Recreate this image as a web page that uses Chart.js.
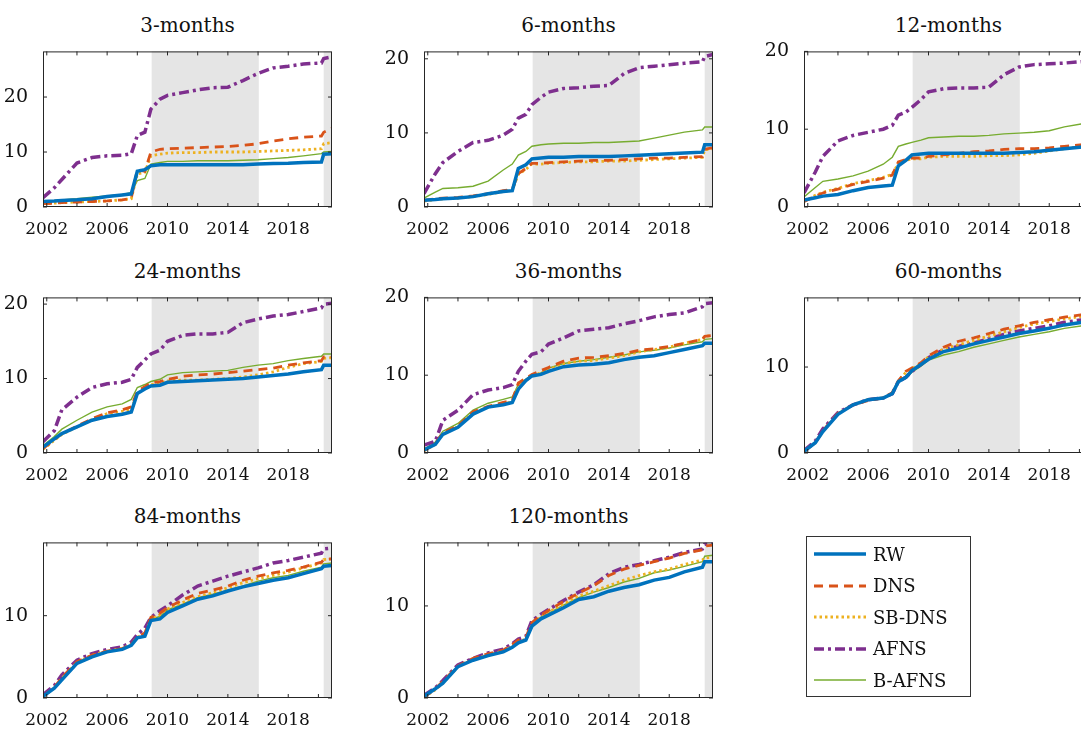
<!DOCTYPE html>
<html>
<head>
<meta charset="utf-8">
<script src="https://cdn.jsdelivr.net/npm/chart.js@4.4.0/dist/chart.umd.min.js"></script>
<style>
  body { margin: 0; width: 1081px; height: 729px; overflow: hidden; background: #fff; position: relative; font-family: 'DejaVu Serif', 'Liberation Serif', serif; }
  canvas { position: absolute; }
  .ttl { position: absolute; font-size: 20px; color: #111; text-align: center; width: 289px; }
  #legend { position: absolute; left: 806px; top: 536px; width: 165px; height: 161px; border: 1px solid #333; box-sizing: border-box; background: #fff; }
  .item { position: absolute; left: 6px; height: 24px; font-size: 18px; color: #111; }
  .item canvas { position: static; vertical-align: middle; }
  .item span { vertical-align: middle; margin-left: 6px; }
</style>
</head>
<body>
<div id="legend"></div>
<script>
var FONT = "'DejaVu Serif', 'Liberation Serif', serif";
// shared time grid (decimal years)
var years = [2001.75, 2002.5, 2003, 2004, 2005, 2006, 2007, 2007.6, 2008, 2008.5, 2008.9, 2009.5, 2010,
  2011, 2012, 2013, 2014, 2015, 2016, 2017, 2018, 2019, 2020.2, 2020.35, 2020.9];
var seriesNames = ['RW', 'DNS', 'SB-DNS', 'AFNS', 'B-AFNS'];
var panelTitles = ['3-months', '6-months', '12-months', '24-months', '36-months', '60-months', '84-months', '120-months'];
var yMax = [28.3, 21, 20, 20.9, 20, 18.1, 18.9, 16.9];
var yTicks = [0, 10, 20];
var xTickLabels = [2002, 2006, 2010, 2014, 2018];
var shadeZLB = [2008.95, 2016.05];
var shadeCovid = 2020.35;

// cumulative values per panel: RW, DNS, SB-DNS, AFNS, B-AFNS
var m3 = [
  [1, 1.1, 1.2, 1.3, 1.5, 1.9, 2.2, 2.4, 6.5, 6.8, 7.5, 7.7, 7.7, 7.7, 7.7, 7.7, 7.7, 7.7, 7.8, 7.9, 7.95, 8.1, 8.2, 9.6, 9.7],
  [0.6, 0.7, 0.8, 0.9, 1, 1.1, 1.3, 1.6, 6.8, 6.5, 10, 10.5, 10.6, 10.7, 10.8, 10.9, 11, 11.2, 11.5, 12, 12.4, 12.7, 12.9, 13.6, 14.3],
  [0.6, 0.7, 0.8, 0.9, 1, 1.1, 1.3, 1.5, 6, 6.3, 9.3, 9.6, 9.8, 9.9, 9.9, 10, 10, 10, 10.1, 10.2, 10.3, 10.4, 10.6, 11.5, 11.7],
  [1.7, 3.5, 5, 8, 9, 9.3, 9.4, 9.7, 13, 13.6, 17.8, 19.6, 20.3, 20.8, 21.3, 21.7, 21.8, 23, 24.3, 25.3, 25.6, 26, 26.2, 27, 27.3],
  [1.1, 1.2, 1.3, 1.5, 1.8, 2, 2.3, 2.6, 4.8, 5.2, 7.8, 8.1, 8.3, 8.3, 8.4, 8.4, 8.4, 8.5, 8.6, 8.8, 9, 9.3, 9.7, 10, 10.1]
];
var m6 = [
  [0.9, 1.0, 1.1, 1.2, 1.4, 1.8, 2.1, 2.2, 5.2, 5.7, 6.5, 6.6, 6.7, 6.7, 6.8, 6.8, 6.8, 6.9, 7, 7.1, 7.2, 7.3, 7.4, 8.4, 8.4],
  [0.9, 1.1, 1.2, 1.3, 1.5, 1.8, 2.2, 2.4, 4.5, 5.2, 5.9, 5.9, 6, 6.1, 6.2, 6.3, 6.3, 6.4, 6.5, 6.6, 6.6, 6.7, 6.8, 7.8, 8.0],
  [0.8, 1.0, 1.1, 1.2, 1.4, 1.7, 2.1, 2.3, 4.4, 5.1, 5.8, 5.8, 5.9, 6.0, 6.1, 6.1, 6.2, 6.2, 6.3, 6.4, 6.5, 6.6, 6.7, 7.7, 7.9],
  [1.8, 4.5, 6, 7.5, 8.7, 9, 9.7, 10.5, 12, 12.5, 13.8, 14.8, 15.5, 16, 16.1, 16.3, 16.4, 18, 18.8, 19.0, 19.2, 19.4, 19.6, 20.3, 20.6],
  [1.2, 2.0, 2.5, 2.6, 2.8, 3.5, 5, 5.8, 7, 7.5, 8.2, 8.4, 8.5, 8.6, 8.6, 8.7, 8.7, 8.8, 8.9, 9.3, 9.7, 10.1, 10.4, 10.8, 10.8]
];
var m12 = [
  [0.9, 1.2, 1.4, 1.6, 2.1, 2.5, 2.7, 2.8, 5.3, 6, 6.7, 6.8, 6.9, 6.9, 6.9, 6.9, 6.9, 6.9, 7, 7.1, 7.3, 7.5, 7.7, 7.7, 7.8],
  [0.7, 1.4, 1.8, 2.3, 2.9, 3.3, 3.7, 4.1, 5.8, 6.1, 6.3, 6.3, 6.5, 6.7, 6.9, 7.1, 7.2, 7.4, 7.5, 7.5, 7.6, 7.8, 8, 8, 8.1],
  [0.7, 1.5, 1.9, 2.4, 3.0, 3.4, 3.8, 4.2, 5.6, 6, 6.2, 6.2, 6.4, 6.5, 6.5, 6.5, 6.6, 6.6, 6.7, 6.9, 7.2, 7.5, 7.8, 7.9, 8.0],
  [1.8, 4.5, 6.5, 8.5, 9.2, 9.6, 10, 10.5, 11.8, 12.2, 12.8, 13.8, 14.8, 15.2, 15.3, 15.3, 15.4, 17, 18, 18.3, 18.4, 18.5, 18.7, 18.8, 18.9],
  [1.3, 2.5, 3.3, 3.6, 4.0, 4.6, 5.5, 6.4, 7.8, 8.1, 8.3, 8.6, 8.9, 9.0, 9.1, 9.1, 9.2, 9.4, 9.5, 9.6, 9.8, 10.3, 10.7, 10.8, 11.2]
];
var m24 = [
  [0.8, 1.9, 2.6, 3.5, 4.4, 4.9, 5.2, 5.5, 8.0, 8.6, 9.0, 9.1, 9.5, 9.6, 9.7, 9.8, 9.9, 10, 10.2, 10.4, 10.6, 10.9, 11.2, 11.8, 11.8],
  [0.6, 1.8, 2.6, 3.6, 4.6, 5.4, 5.8, 6.2, 8.3, 8.9, 9.4, 9.6, 9.9, 10.3, 10.5, 10.6, 10.8, 11, 11.2, 11.4, 11.8, 12.1, 12.4, 12.9, 12.9],
  [0.5, 1.7, 2.5, 3.5, 4.5, 5.3, 5.6, 5.9, 8.0, 8.7, 9.2, 9.4, 9.7, 9.8, 9.8, 9.9, 10, 10.2, 10.5, 10.9, 11.5, 12, 12.3, 12.7, 12.8],
  [1.5, 3.0, 5.8, 7.5, 8.8, 9.3, 9.5, 9.9, 11.5, 12.5, 13.3, 13.8, 15, 15.8, 16, 16, 16.2, 17.5, 18, 18.4, 18.6, 19, 19.5, 20, 20.1],
  [1.0, 2.2, 3.2, 4.4, 5.5, 6.2, 6.6, 7.2, 8.8, 9.2, 9.6, 9.9, 10.5, 10.8, 10.9, 11, 11.1, 11.5, 11.8, 12, 12.4, 12.7, 13, 13.3, 13.3]
];
var m36 = [
  [0.4, 1.1, 2.4, 3.3, 5.0, 5.9, 6.2, 6.5, 8.2, 9.3, 9.9, 10.1, 10.5, 11.1, 11.3, 11.4, 11.6, 12, 12.3, 12.5, 12.9, 13.3, 13.8, 14.1, 14.1],
  [0.3, 1.2, 2.6, 3.5, 5.3, 6.0, 6.5, 6.8, 9.0, 9.6, 10.1, 10.6, 11, 11.8, 12.2, 12.3, 12.5, 12.8, 13.2, 13.4, 13.7, 14.1, 14.6, 15, 15.1],
  [0.3, 1.1, 2.4, 3.4, 5.2, 5.9, 6.3, 6.6, 8.6, 9.3, 9.9, 10.3, 10.7, 11.5, 11.8, 11.9, 12.2, 12.5, 13, 13.3, 13.6, 14.1, 14.6, 15, 15.1],
  [1.0, 1.5, 4.2, 5.5, 7.5, 8.1, 8.4, 8.8, 10.5, 11.8, 12.7, 13, 14, 14.8, 15.7, 15.9, 16.1, 16.6, 17.0, 17.5, 17.8, 18.0, 18.8, 19.2, 19.3],
  [0.5, 1.4, 2.8, 3.8, 5.5, 6.4, 6.9, 7.2, 8.8, 9.5, 10, 10.3, 10.9, 11.5, 11.8, 12, 12.3, 12.6, 13, 13.2, 13.5, 13.9, 14.3, 14.6, 14.7]
];
var m60 = [
  [0.2, 1.2, 2.5, 4.5, 5.6, 6.2, 6.4, 6.9, 8.3, 8.8, 9.6, 10.3, 10.9, 11.8, 12.2, 12.7, 13.1, 13.5, 13.9, 14.2, 14.5, 14.9, 15.2, 15.3, 15.5],
  [0.2, 1.2, 2.6, 4.6, 5.6, 6.1, 6.4, 7.0, 8.4, 9.5, 9.9, 10.5, 11.3, 12.3, 13, 13.4, 13.9, 14.4, 14.8, 15.2, 15.5, 15.8, 16.1, 16.3, 16.3],
  [0.2, 1.2, 2.5, 4.6, 5.6, 6.2, 6.4, 7, 8.3, 9.4, 9.8, 10.4, 11.2, 12.1, 12.6, 13.1, 13.6, 14.1, 14.6, 15, 15.3, 15.6, 15.9, 16.1, 16.2],
  [0.3, 1.4, 2.8, 4.7, 5.6, 6.2, 6.4, 6.9, 8.3, 8.8, 9.5, 10.3, 11.1, 12, 12.4, 12.8, 13.3, 13.8, 14.2, 14.5, 14.8, 15.2, 15.5, 15.7, 15.8],
  [0.2, 1.3, 2.6, 4.5, 5.6, 6.3, 6.5, 6.9, 8.3, 8.7, 9.4, 10.1, 10.8, 11.4, 11.8, 12.3, 12.7, 13.1, 13.5, 13.8, 14.1, 14.5, 14.8, 14.9, 15.0]
];
var m84 = [
  [0.2, 1.2, 2.2, 4.2, 5.0, 5.6, 5.9, 6.4, 7.3, 7.5, 9.4, 9.6, 10.4, 11.2, 12, 12.4, 13, 13.5, 13.9, 14.3, 14.6, 15.1, 15.7, 16.0, 16.1],
  [0.2, 1.3, 2.5, 4.4, 5.2, 5.7, 6.0, 6.5, 7.4, 7.9, 9.8, 10.3, 11.0, 11.9, 12.7, 13.1, 13.6, 14.3, 14.8, 15.2, 15.5, 15.9, 16.5, 16.8, 16.9],
  [0.2, 1.2, 2.4, 4.3, 5.2, 5.7, 6.0, 6.5, 7.4, 7.7, 9.6, 10.1, 10.8, 11.6, 12.3, 12.8, 13.4, 14, 14.5, 14.9, 15.3, 15.8, 16.4, 16.8, 16.9],
  [0.4, 1.5, 2.8, 4.6, 5.4, 5.9, 6.2, 6.8, 7.7, 8.5, 9.8, 10.6, 11.2, 12.5, 13.6, 14.2, 14.8, 15.3, 15.8, 16.4, 16.7, 17.1, 17.6, 18.1, 18.2],
  [0.2, 1.2, 2.3, 4.3, 5.1, 5.6, 5.9, 6.4, 7.3, 7.5, 9.6, 9.9, 10.7, 11.4, 12.2, 12.6, 13.1, 13.6, 14.2, 14.6, 14.9, 15.4, 15.9, 16.3, 16.4]
];
var m120 = [
  [0.2, 1.0, 1.6, 3.4, 4.1, 4.6, 5.0, 5.5, 6.0, 6.3, 7.8, 8.6, 9.0, 9.8, 10.7, 11.0, 11.6, 12.0, 12.3, 12.8, 13.1, 13.7, 14.2, 14.8, 14.8],
  [0.1, 1.0, 1.8, 3.5, 4.3, 4.8, 5.2, 5.8, 6.3, 6.6, 8.2, 9.0, 9.5, 10.5, 11.4, 12.2, 13.3, 14, 14.4, 14.8, 15.2, 15.7, 16.1, 16.5, 16.6],
  [0.1, 0.9, 1.6, 3.4, 4.2, 4.7, 5.1, 5.6, 6.1, 6.4, 8.0, 8.8, 9.3, 10.2, 11.1, 11.6, 12.2, 12.8, 13.3, 13.7, 14.0, 14.5, 15.0, 15.2, 15.3],
  [0.3, 1.1, 1.9, 3.6, 4.3, 4.9, 5.3, 5.9, 6.4, 6.7, 8.4, 9.1, 9.6, 10.6, 11.5, 12.3, 13.5, 14.2, 14.5, 14.9, 15.3, 15.8, 16.2, 16.7, 16.8],
  [0.2, 1.0, 1.7, 3.4, 4.2, 4.7, 5.1, 5.6, 6.1, 6.4, 8.0, 8.8, 9.2, 10.1, 10.9, 11.5, 12.0, 12.6, 13.0, 13.6, 13.9, 14.3, 14.8, 15.4, 15.5]
];
var panels = [m3, m6, m12, m24, m36, m60, m84, m120];

var styles = [
  { color: '#0072BD', width: 3.5, dash: [] },
  { color: '#D95319', width: 2.8, dash: [9, 6] },
  { color: '#EDB120', width: 2.8, dash: [2.5, 3] },
  { color: '#7E2F8E', width: 3.5, dash: [10, 4, 3, 4] },
  { color: '#77AC30', width: 1.4, dash: [] }
];

var colLeft = [43, 424, 804];
var rowTop = [45, 291, 536];
var plotW = 289, plotH = 162;
var padL = 45, padT = 12, padR = 20, padB = 35;
var xMin = 2001.75, xMax = 2020.9;

var frame = {
  id: 'frame',
  beforeDatasetsDraw: function (c) {
    var a = c.chartArea, x = c.scales.x, g = c.ctx;
    g.save();
    g.fillStyle = '#e5e5e5';
    g.fillRect(x.getPixelForValue(shadeZLB[0]), a.top, x.getPixelForValue(shadeZLB[1]) - x.getPixelForValue(shadeZLB[0]), a.bottom - a.top);
    g.fillRect(x.getPixelForValue(shadeCovid), a.top, a.right - x.getPixelForValue(shadeCovid), a.bottom - a.top);
    g.restore();
  },
  afterDatasetsDraw: function (c) {
    var a = c.chartArea, x = c.scales.x, y = c.scales.y, g = c.ctx;
    g.save();
    g.strokeStyle = '#262626';
    g.lineWidth = 1;
    g.strokeRect(a.left + 0.5, a.top + 0.5, a.right - a.left - 1, a.bottom - a.top - 1);
    g.beginPath();
    for (var yr = 2002; yr <= 2020; yr += 2) {
      var px = x.getPixelForValue(yr);
      g.moveTo(px, a.bottom); g.lineTo(px, a.bottom - 4);
      g.moveTo(px, a.top); g.lineTo(px, a.top + 4);
    }
    yTicks.forEach(function (v) {
      if (v > y.max) return;
      var py = y.getPixelForValue(v);
      g.moveTo(a.left, py); g.lineTo(a.left + 4, py);
      g.moveTo(a.right, py); g.lineTo(a.right - 4, py);
    });
    g.stroke();
    g.restore();
  }
};

panels.forEach(function (data, i) {
  var col = i % 3, row = Math.floor(i / 3);
  var left = colLeft[col], top = rowTop[row];

  var t = document.createElement('div');
  t.className = 'ttl';
  t.style.left = left + 'px';
  t.style.top = (top - 32) + 'px';
  t.textContent = panelTitles[i];
  document.body.appendChild(t);

  var cv = document.createElement('canvas');
  cv.width = plotW + padL + padR;
  cv.height = plotH + padT + padB;
  cv.style.left = (left - padL) + 'px';
  cv.style.top = (top - padT) + 'px';
  document.body.appendChild(cv);

  new Chart(cv.getContext('2d'), {
    type: 'line',
    data: {
      datasets: seriesNames.map(function (name, k) {
        return {
          label: name,
          data: years.map(function (yr, j) { return { x: yr, y: data[k][j] }; }),
          borderColor: styles[k].color,
          borderWidth: styles[k].width,
          borderDash: styles[k].dash,
          pointRadius: 0,
          tension: 0,
          fill: false
        };
      })
    },
    options: {
      responsive: false,
      animation: false,
      layout: { padding: { top: padT, right: padR, left: 0, bottom: 0 } },
      plugins: { legend: { display: false }, tooltip: { enabled: false } },
      scales: {
        x: {
          type: 'linear', min: xMin, max: xMax,
          afterBuildTicks: function (s) { s.ticks = xTickLabels.map(function (v) { return { value: v }; }); },
          afterFit: function (s) { s.height = padB; },
          grid: { display: false },
          border: { display: false },
          ticks: { color: '#111', font: { family: FONT, size: 17 }, maxRotation: 0, padding: 4, callback: function (v) { return String(v); } }
        },
        y: {
          min: 0, max: yMax[i],
          afterBuildTicks: function (s) { s.ticks = yTicks.filter(function (v) { return v <= yMax[i]; }).map(function (v) { return { value: v }; }); },
          afterFit: function (s) { s.width = padL; },
          grid: { display: false },
          border: { display: false },
          ticks: { color: '#111', font: { family: FONT, size: 19 }, padding: 7 }
        }
      }
    },
    plugins: [frame]
  });
});

// legend
var legend = document.getElementById('legend');
seriesNames.forEach(function (name, k) {
  var item = document.createElement('div');
  item.className = 'item';
  item.style.top = (5 + k * 31.5) + 'px';
  var c = document.createElement('canvas');
  c.width = 54; c.height = 20;
  var g = c.getContext('2d');
  g.strokeStyle = styles[k].color;
  g.lineWidth = styles[k].width;
  g.setLineDash(styles[k].dash);
  g.beginPath(); g.moveTo(1, 10); g.lineTo(53, 10); g.stroke();
  var s = document.createElement('span');
  s.textContent = name;
  item.appendChild(c); item.appendChild(s);
  legend.appendChild(item);
});
</script>
</body>
</html>
